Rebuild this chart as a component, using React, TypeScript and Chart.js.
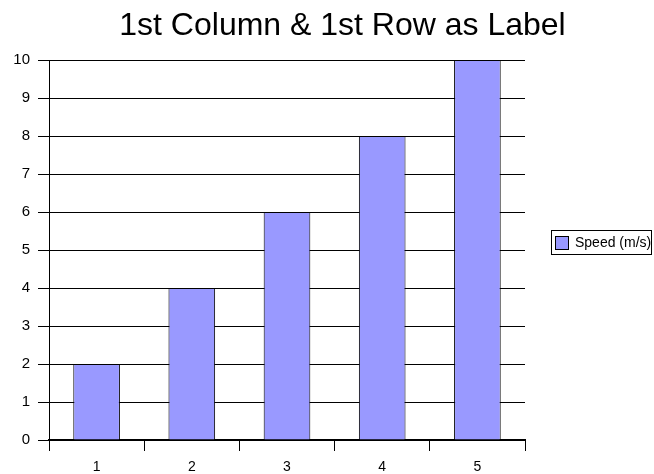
import React, { useEffect, useRef } from "react";
import { Chart, registerables } from "chart.js";

Chart.register(...registerables);

const categories: string[] = ["1", "2", "3", "4", "5"];
const speedValues: number[] = [2, 4, 6, 8, 10];
const seriesLabel = "Speed (m/s)";
const titleText = "1st Column & 1st Row as Label";
const yMin = 0;
const yMax = 10;
const yStep = 1;

const FONT = "'Liberation Sans', Arial, Helvetica, sans-serif";
const BAR_COLOR = "#9999ff";

const decorPlugin = {
  id: "decor",
  afterDraw(chart: any) {
    const ctx: CanvasRenderingContext2D = chart.ctx;
    ctx.save();
    // Title
    ctx.fillStyle = "#000";
    ctx.font = `32px ${FONT}`;
    ctx.textAlign = "center";
    ctx.textBaseline = "alphabetic";
    ctx.fillText(titleText, 342.5, 35);

    // Legend
    const ds = chart.data.datasets[0];
    const bx = 551.5, by = 230.5, bw = 100, bh = 24;
    ctx.strokeStyle = "#000";
    ctx.lineWidth = 1;
    ctx.strokeRect(bx, by, bw, bh);
    ctx.fillStyle = ds.backgroundColor;
    ctx.fillRect(555.5, 236.5, 13, 13);
    ctx.strokeRect(555.5, 236.5, 13, 13);
    ctx.fillStyle = "#000";
    ctx.font = `14px ${FONT}`;
    ctx.textAlign = "left";
    ctx.textBaseline = "middle";
    ctx.fillText(ds.label, 575, 243);
    ctx.restore();
  },
};

export default function App() {
  const canvasRef = useRef<HTMLCanvasElement | null>(null);

  useEffect(() => {
    if (!canvasRef.current) return;
    const chart = new Chart(canvasRef.current, {
      type: "bar",
      data: {
        labels: categories,
        datasets: [
          {
            label: seriesLabel,
            data: speedValues,
            backgroundColor: BAR_COLOR,
            borderColor: "#000",
            borderWidth: 1,
            barPercentage: 0.49,
            categoryPercentage: 1,
          },
        ],
      },
      options: {
        responsive: false,
        animation: false,
        devicePixelRatio: 1,
        layout: { padding: { top: 60, left: 0, right: 129, bottom: 0 } },
        plugins: {
          legend: { display: false },
          title: { display: false },
          tooltip: { enabled: false },
        },
        scales: {
          x: {
            offset: true,
            grid: {
              display: true,
              drawOnChartArea: false,
              drawTicks: true,
              tickLength: 11,
              color: "#000",
              offset: true,
            },
            border: { display: true, color: "#000", width: 2 },
            ticks: {
              color: "#000",
              font: { family: FONT, size: 14 },
              padding: 8,
              maxRotation: 0,
            },
            afterFit(scale: any) {
              scale.height = 34;
            },
          },
          y: {
            min: yMin,
            max: yMax,
            grid: {
              color: "#000",
              tickLength: 11,
              drawTicks: true,
            },
            border: { display: true, color: "#000", width: 1 },
            ticks: {
              stepSize: yStep,
              color: "#000",
              font: { family: FONT, size: 15 },
              padding: 8,
            },
            afterFit(scale: any) {
              scale.width = 49;
            },
          },
        },
      },
      plugins: [decorPlugin],
    });
    return () => chart.destroy();
  }, []);

  return (
    <div style={{ position: "fixed", left: 0, top: 0, width: 654, height: 474, background: "#fff" }}>
      <canvas ref={canvasRef} width={654} height={474} style={{ display: "block" }} />
    </div>
  );
}
